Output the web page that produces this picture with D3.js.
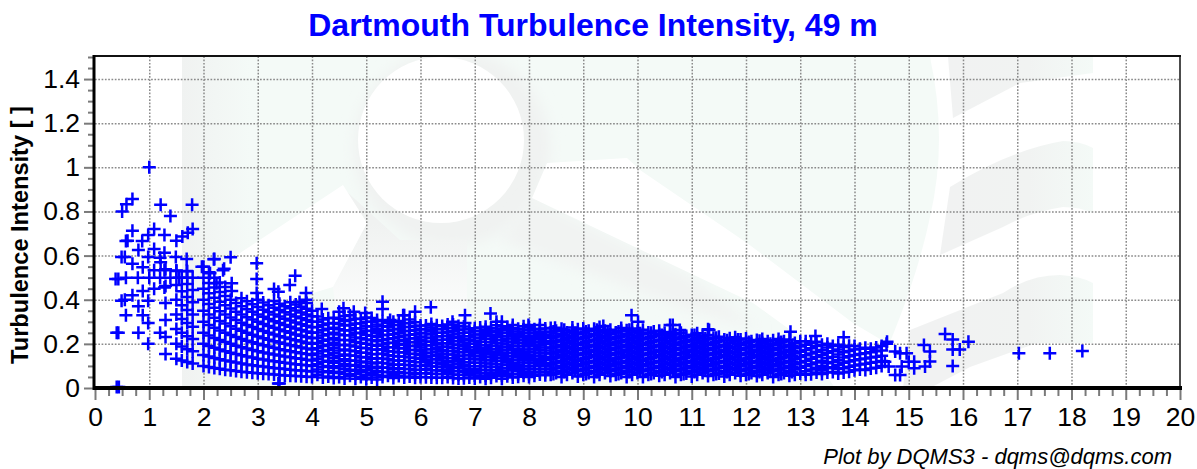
<!DOCTYPE html>
<html lang="en">
<head>
    <meta charset="UTF-8">
    <title>Dartmouth Turbulence Intensity, 49 m</title>
    <style>
        body { margin: 0; background: #fff; }
        svg { display: block; }
        text { font-family: "Liberation Sans", Arial, sans-serif; fill: #000; }
        .title { font-size: 32px; font-weight: bold; fill: #0000ff; text-anchor: middle; }
        .ylabel { font-size: 23.6px; font-weight: bold; text-anchor: middle; }
        .credit { font-size: 22px; font-style: italic; text-anchor: end; }
        .axis text { font-size: 26.5px; font-family: "Liberation Sans", Arial, sans-serif; fill: #000; }
        .axis path { display: none; }
        .axis line { stroke: #7a7a7a; stroke-width: 2; }
        .grid line { stroke: #8a8a8a; stroke-width: 1.5; stroke-dasharray: 1.7 1.6; }
        .grid path { display: none; }
        .mark { fill: none; stroke: #0000ff; stroke-width: 2.5; }
    </style>
</head>
<body>

<svg width="1197" height="469"></svg>

<script src="https://d3js.org/d3.v7.min.js"></script>

<script>

// single points around the edge of the cloud
const edgeWs = [1, .69, .58, .5, 1.21, 1.39, 1.79, .69, .57, .6, 1.09, 1.28, .98, .87, 1.5, 1.61, 1.71, 1.8,
    1.09, .8, 1.28, .49, .55, .69, .98, 1.2, 1.21, 1.49, 1.69, 2.2, .88, 1.09, 1.28, 1.5, 1.69, 2.36, 1.97, 2.12,
    .38, .43, .57, .79, 1, 1.2, 1.39, 1.55, 1.7, .88, .69, 1.09, 1.28, .49, .55, .98, .8, .88, .57, .98,
    .4, .43, .8, .98, 1.2, .4, .44,
    2.19, 2.5, 2.98, 2.38, 2.24, 2.52, 2.52, 2.98, 3.69, 3.59, 2.98, 3.3, 3.38, 3.89, 3.89, 3.77, 4.18, 4.58, 4.5,
    4.77, 5.3, 5.3, 4.98, 5.1, 5.68, 5.44, 6.19, 5.9, 5.7, 6.82, 7.29, 6.59, 6.82, 7.4, 7.5, 7.7, 7.99, 8.2,
    8.48, 9.37, 9.89, 10.01, 10.6, 10.78, 11.32, 12.82, 10.65, 11.3, 13.28, 13.8, 3.38, 3.4,
    14.6, 14.59, 14.75, 14.84, 14.96, 15, 15.1, 15.1, 14.87, 14.63, 14.75, 14.84, 14.56, 15.28, 15.39, 15.39, 15.3,
    15.67, 15.81, 15.81, 15.94, 16.1, 15.81, 17.03, 17.6, 18.2];
const edgeTi = [1, .856, .833, .8, .83, .78, .83, .713, .666, .667, .72, .693, .693, .666, .667, .686, .704, .72,
    .63, .625, .613, .594, .594, .563, .594, .59, .57, .594, .585, .585, .547, .534, .534, .53, .53, .534, .55, .52,
    .494, .494, .5, .5, .5, .5, .5, .5, .5, .44, .42, .45, .455, .395, .4, .395, .37, .33, .33, .295,
    .25, .25, .25, .2, .25, .005, .005,
    .583, .592, .565, .54, .475, .475, .44, .494, .509, .467, .43, .449, .436, .43, .4, .39, .358, .361, .346,
    .346, .391, .358, .34, .317, .33, .308, .366, .346, .33, .33, .338, .3, .294, .3, .3, .285, .285, .285,
    .273, .281, .33, .3, .285, .263, .263, .255, .285, .266, .236, .23, .02, .02,
    .21, .2, .165, .157, .157, .119, .119, .09, .097, .097, .059, .059, .119, .195, .165, .12, .097,
    .245, .22, .175, .175, .21, .1, .157, .157, .168];

// the dense part, one list of readings for each wind speed
const columnWs = [1.3, 1.5, 1.6, 1.7, 1.8, 2, 2.2, 2.3, 2.5, 2.6, 2.8, 2.9, 3.1, 3.2, 3.4, 3.5, 3.7, 3.8, 4,
    4.2, 4.4, 4.6, 4.8, 5, 5.2, 5.4, 5.6, 5.8, 6, 6.2, 6.4, 6.6, 6.8, 7, 7.2, 7.4, 7.6, 7.8, 8, 8.2,
    8.4, 8.5, 8.6, 8.7, 8.8, 8.9, 9, 9.1, 9.2, 9.3, 9.4, 9.5, 9.6, 9.7, 9.8, 9.9, 10, 10.1, 10.2, 10.3,
    10.4, 10.5, 10.6, 10.7, 10.8, 10.9, 11, 11.1, 11.2, 11.3, 11.4, 11.5, 11.6, 11.7, 11.8, 11.9, 12,
    12.1, 12.2, 12.3, 12.4, 12.5, 12.6, 12.7, 12.8, 12.9, 13,
    13.1, 13.2, 13.3, 13.4, 13.5, 13.6, 13.7, 13.8, 13.9, 14, 14.1, 14.2, 14.3, 14.4, 14.5];
const columnTi = [
    [.154, .231, .308, .385, .462, .538],
    [.133, .2, .267, .333, .4, .467, .533],
    [.125, .188, .25, .313, .375, .438, .5],
    [.118, .176, .235, .294, .353, .412, .471, .529],
    [.111, .167, .222, .278, .333, .389, .444, .5],
    [.1, .15, .2, .25, .3, .35, .4, .45, .5, .55],
    [.091, .136, .182, .227, .273, .318, .364, .409, .455, .5],
    [.087, .13, .174, .217, .261, .304, .348, .391, .435, .478],
    [.08, .12, .16, .2, .24, .28, .32, .36, .4],
    [.077, .115, .154, .192, .231, .269, .308, .346, .385],
    [.071, .107, .143, .179, .214, .25, .286, .321, .357, .393],
    [.069, .103, .138, .172, .207, .241, .276, .31, .345, .379],
    [.065, .097, .129, .161, .194, .226, .258, .29, .323, .355, .387],
    [.063, .094, .125, .156, .188, .219, .25, .281, .313, .344, .375],
    [.059, .088, .118, .147, .176, .206, .235, .265, .294, .324, .353, .382],
    [.057, .086, .114, .143, .171, .2, .229, .257, .286, .314, .343, .371],
    [.054, .081, .108, .135, .162, .189, .216, .243, .27, .297, .324, .351, .378],
    [.053, .079, .105, .132, .158, .184, .211, .237, .263, .289, .316, .342, .368],
    [.05, .075, .1, .125, .15, .175, .2, .225, .25, .275, .3, .325, .35],
    [.048, .071, .095, .119, .143, .167, .19, .214, .238, .262, .286, .31],
    [.045, .068, .091, .114, .136, .159, .182, .205, .227, .25, .273, .295, .318],
    [.043, .065, .087, .109, .13, .152, .174, .196, .217, .239, .261, .283, .304, .326],
    [.042, .063, .083, .104, .125, .146, .167, .188, .208, .229, .25, .271, .292, .313],
    [.04, .06, .08, .1, .12, .14, .16, .18, .2, .22, .24, .26, .28, .3, .32],
    [.038, .058, .077, .096, .115, .135, .154, .173, .192, .212, .231, .25, .269, .288, .308],
    [.056, .074, .093, .111, .13, .148, .167, .185, .204, .222, .241, .259, .278, .296],
    [.054, .071, .089, .107, .125, .143, .161, .179, .196, .214, .232, .25, .268, .286, .304],
    [.052, .069, .086, .103, .121, .138, .155, .172, .19, .207, .224, .241, .259, .276, .293, .31],
    [.05, .067, .083, .1, .117, .133, .15, .167, .183, .2, .217, .233, .25, .267, .283],
    [.048, .065, .081, .097, .113, .129, .145, .161, .177, .194, .21, .226, .242, .258, .274, .29],
    [.047, .063, .078, .094, .109, .125, .141, .156, .172, .188, .203, .219, .234, .25, .266, .281],
    [.045, .061, .076, .091, .106, .121, .136, .152, .167, .182, .197, .212, .227, .242, .258, .273, .288],
    [.044, .059, .074, .088, .103, .118, .132, .147, .162, .176, .191, .206, .221, .235, .25, .265, .279],
    [.043, .057, .071, .086, .1, .114, .129, .143, .157, .171, .186, .2, .214, .229, .243, .257, .271],
    [.042, .056, .069, .083, .097, .111, .125, .139, .153, .167, .181, .194, .208, .222, .236, .25, .264, .278],
    [.054, .068, .081, .095, .108, .122, .135, .149, .162, .176, .189, .203, .216, .23, .243, .257, .27, .284],
    [.053, .066, .079, .092, .105, .118, .132, .145, .158, .171, .184, .197, .211, .224, .237, .25, .263, .276],
    [.051, .064, .077, .09, .103, .115, .128, .141, .154, .167, .179, .192, .205, .218, .231, .244, .256, .269],
    [.05, .063, .075, .088, .1, .113, .125, .138, .15, .163, .175, .188, .2, .213, .225, .238, .25, .263, .275],
    [.061, .073, .085, .098, .11, .122, .134, .146, .159, .171, .183, .195, .207, .22, .232, .244, .256, .268],
    [.06, .084, .108, .132, .156, .18, .204, .228, .252, .272],
    [.068, .092, .116, .14, .164, .188, .212, .236, .26],
    [.05, .076, .1, .124, .148, .172, .196, .22, .244, .268],
    [.06, .084, .108, .132, .156, .18, .204, .228, .252],
    [.068, .092, .116, .14, .164, .188, .212, .236, .26, .274],
    [.052, .076, .1, .124, .148, .172, .196, .22, .244, .266],
    [.06, .084, .108, .132, .156, .18, .204, .228, .252, .27],
    [.068, .092, .116, .14, .164, .188, .212, .236, .26],
    [.05, .076, .1, .124, .148, .172, .196, .22, .244, .268],
    [.06, .084, .108, .132, .156, .18, .204, .228, .252, .276],
    [.068, .092, .116, .14, .164, .188, .212, .236, .26],
    [.054, .076, .1, .124, .148, .172, .196, .22, .244, .264],
    [.06, .084, .108, .132, .156, .18, .204, .228, .252],
    [.068, .092, .116, .14, .164, .188, .212, .236, .26, .272],
    [.05, .076, .1, .124, .148, .172, .196, .22, .244, .262],
    [.06, .084, .108, .132, .156, .18, .204, .228, .252, .27],
    [.068, .092, .116, .14, .164, .188, .212, .236, .258],
    [.05, .076, .1, .124, .148, .172, .196, .22, .244, .264],
    [.06, .084, .108, .132, .156, .18, .204, .228, .252],
    [.068, .092, .116, .14, .164, .188, .212, .236, .256],
    [.056, .076, .1, .124, .148, .172, .196, .22, .244, .26],
    [.06, .084, .108, .132, .156, .18, .204, .228, .25],
    [.068, .092, .116, .14, .164, .188, .212, .236, .254],
    [.05, .076, .1, .124, .148, .172, .196, .22, .244],
    [.06, .084, .108, .132, .156, .18, .204, .228, .25],
    [.066, .092, .116, .14, .164, .188, .212, .236],
    [.052, .076, .1, .124, .148, .172, .196, .22, .24],
    [.06, .084, .108, .132, .156, .18, .204, .228, .248],
    [.068, .092, .116, .14, .164, .188, .212, .236],
    [.054, .076, .1, .124, .148, .172, .196, .22, .24],
    [.06, .084, .108, .132, .156, .18, .204, .228],
    [.066, .092, .116, .14, .164, .188, .212, .232],
    [.052, .076, .1, .124, .148, .172, .196, .22],
    [.06, .084, .108, .132, .156, .18, .204, .226],
    [.068, .092, .116, .14, .164, .188, .212, .23],
    [.056, .076, .1, .124, .148, .172, .196, .22],
    [.06, .084, .108, .132, .156, .18, .204, .224],
    [.068, .092, .116, .14, .164, .188, .212],
    [.054, .076, .1, .124, .148, .172, .196, .218],
    [.06, .084, .108, .132, .156, .18, .204, .222],
    [.068, .092, .116, .14, .164, .188, .212],
    [.05, .076, .1, .124, .148, .172, .196, .216],
    [.06, .084, .108, .132, .156, .18, .204, .222],
    [.068, .092, .116, .14, .164, .188, .212],
    [.056, .076, .1, .124, .148, .172, .196, .22],
    [.06, .084, .108, .132, .156, .18, .204],
    [.066, .092, .116, .14, .164, .188, .212],
    [.06, .076, .1, .122, .148, .172, .196, .212],
    [.062, .084, .108, .132, .156, .18, .204],
    [.07, .092, .116, .14, .164, .19, .21],
    [.064, .082, .1, .124, .15, .172, .196],
    [.07, .09, .112, .136, .16, .184, .2],
    [.072, .094, .118, .14, .166, .19],
    [.066, .086, .104, .126, .152, .174, .196],
    [.07, .09, .114, .138, .162, .186],
    [.074, .096, .12, .144, .168, .192],
    [.08, .102, .126, .15, .174, .19],
    [.084, .106, .13, .154, .178],
    [.082, .11, .134, .158, .182],
    [.088, .114, .138, .162, .178],
    [.092, .118, .142, .166, .184],
    [.1, .122, .146, .17, .19]
];

// more readings that sit between the columns above
const infillWs = [2.1, 2.4, 2.7, 3, 3.3, 3.6, 3.9,
    4.1, 4.3, 4.5, 4.7, 4.9, 5.1, 5.3, 5.5, 5.7, 5.9, 6.1, 6.3, 6.5, 6.7, 6.9, 7.1, 7.3, 7.5, 7.7, 7.9, 8.1, 8.3,
    8.45, 8.65, 8.85, 9.05, 9.25, 9.45, 9.65, 9.85, 10.05, 10.25, 10.45, 10.65, 10.85, 11.05, 11.25, 11.45, 11.65,
    11.85, 12.05, 12.25, 12.45, 12.65, 12.85];
const infillTi = [
    [.095, .143, .19, .238, .286, .333, .381, .429, .476, .524],
    [.083, .125, .167, .208, .25, .292, .333, .375, .417, .458],
    [.074, .111, .148, .185, .222, .259, .296, .333, .37, .407],
    [.067, .1, .133, .167, .2, .233, .267, .3, .333, .367, .4],
    [.061, .091, .121, .152, .182, .212, .242, .273, .303, .333, .364, .394],
    [.056, .083, .111, .139, .167, .194, .222, .25, .278, .306, .333, .361, .389],
    [.051, .077, .103, .128, .154, .179, .205, .231, .256, .282, .308, .333, .359, .385],
    [.06, .084, .108, .132, .156, .18, .204, .228, .252, .276, .3, .324],
    [.052, .076, .1, .124, .148, .172, .196, .22, .244, .268, .292, .316],
    [.05, .074, .098, .122, .146, .17, .194, .218, .242, .266, .29, .314],
    [.055, .078, .101, .124, .147, .17, .193, .216, .239, .262, .285, .308, .33],
    [.05, .072, .094, .116, .138, .16, .182, .204, .226, .248, .27, .292, .314],
    [.048, .069, .09, .111, .132, .153, .174, .195, .216, .237, .258, .279, .3],
    [.05, .071, .092, .113, .134, .155, .176, .197, .218, .239, .26, .281, .302],
    [.045, .065, .085, .105, .125, .145, .165, .185, .205, .225, .245, .265, .285, .3],
    [.048, .067, .086, .105, .124, .143, .162, .181, .2, .219, .238, .257, .276, .295],
    [.046, .064, .082, .1, .118, .136, .154, .172, .19, .208, .226, .244, .262, .28, .298],
    [.049, .067, .085, .103, .121, .139, .157, .175, .193, .211, .229, .247, .265, .283],
    [.046, .063, .08, .097, .114, .131, .148, .165, .182, .199, .216, .233, .25, .267, .284],
    [.05, .067, .084, .101, .118, .135, .152, .169, .186, .203, .22, .237, .254, .271, .288],
    [.043, .06, .077, .094, .111, .128, .145, .162, .179, .196, .213, .23, .247, .264, .281],
    [.048, .065, .082, .099, .116, .133, .15, .167, .184, .201, .218, .235, .252, .269],
    [.05, .066, .082, .098, .114, .13, .146, .162, .178, .194, .21, .226, .242, .258, .274],
    [.047, .063, .079, .095, .111, .127, .143, .159, .175, .191, .207, .223, .239, .255, .271],
    [.042, .058, .074, .09, .106, .122, .138, .154, .17, .186, .202, .218, .234, .25, .266, .28],
    [.048, .064, .08, .096, .112, .128, .144, .16, .176, .192, .208, .224, .24, .256, .272],
    [.055, .07, .085, .1, .115, .13, .145, .16, .175, .19, .205, .22, .235, .25, .265, .28],
    [.056, .071, .086, .101, .116, .131, .146, .161, .176, .191, .206, .221, .236, .251, .266],
    [.058, .072, .086, .1, .114, .128, .142, .156, .17, .184, .198, .212, .226, .24, .254, .27],
    [.064, .088, .112, .136, .16, .184, .208, .232, .256],
    [.072, .096, .12, .144, .168, .192, .216, .24, .264],
    [.08, .104, .128, .152, .176, .2, .224, .248],
    [.064, .088, .112, .136, .16, .184, .208, .232, .256],
    [.072, .096, .12, .144, .168, .192, .216, .24, .264],
    [.08, .104, .128, .152, .176, .2, .224, .248],
    [.064, .088, .112, .136, .16, .184, .208, .232, .256],
    [.072, .096, .12, .144, .168, .192, .216, .24, .264],
    [.08, .104, .128, .152, .176, .2, .224, .248],
    [.064, .088, .112, .136, .16, .184, .208, .232, .25],
    [.072, .096, .12, .144, .168, .192, .216, .24],
    [.08, .104, .128, .152, .176, .2, .224, .244],
    [.064, .088, .112, .136, .16, .184, .208, .232],
    [.072, .096, .12, .144, .168, .192, .216, .24],
    [.08, .104, .128, .152, .176, .2, .224],
    [.064, .088, .112, .136, .16, .184, .208, .228],
    [.072, .096, .12, .144, .168, .192, .216],
    [.08, .104, .128, .152, .176, .2, .22],
    [.064, .088, .112, .136, .16, .184, .208],
    [.072, .096, .12, .144, .168, .192, .214],
    [.08, .104, .128, .152, .176, .2],
    [.064, .088, .112, .136, .16, .184, .208],
    [.072, .096, .12, .144, .168, .192]
];

const xTicks = d3.range(0, 21);
const yTicks = [0, 0.2, 0.4, 0.6, 0.8, 1, 1.2, 1.4];

const svg = d3.select('svg');

const x = d3.scaleLinear().domain([0, 20]).range([95, 1180]);
const y = d3.scaleLinear().domain([0, 1.5]).range([388, 57]);

// faded logo behind the plot
const defs = svg.append('defs');
defs.append('clipPath').attr('id', 'logoClip')
    .append('rect').attr('x', 182).attr('y', 57).attr('width', 911).attr('height', 331);
defs.append('filter').attr('id', 'soft').attr('x', '-20%').attr('y', '-20%').attr('width', '140%').attr('height', '140%')
    .append('feGaussianBlur').attr('stdDeviation', 7);

function gradient(id, x1, y1, x2, y2, stops) {
    const g = defs.append('linearGradient').attr('id', id)
        .attr('gradientUnits', 'userSpaceOnUse')
        .attr('x1', x1).attr('y1', y1).attr('x2', x2).attr('y2', y2);
    stops.forEach(s => g.append('stop').attr('offset', s[0]).attr('stop-color', s[1]));
}
gradient('baseFill', 182, 0, 250, 0, [[0, '#f0f2f1'], [1, '#f4faf7']]);
gradient('underFill', 0, 223, 0, 320, [[0, '#f0f2f1'], [1, '#fcfdfd']]);
gradient('shardFill', 950, 0, 1093, 0, [[0, '#f1f2f2'], [0.55, '#f1f3f2'], [1, '#f4faf7']]);

const logo = svg.append('g').attr('clip-path', 'url(#logoClip)');
logo.append('path').attr('fill', 'url(#baseFill)')
    .attr('d', 'M182,57L930,57Q948,140 930,217Q915,290 870,388L182,388Z');
logo.append('circle').attr('cx', 452).attr('cy', 148).attr('r', 98)
    .attr('fill', '#f0f2f1').attr('filter', 'url(#soft)');
logo.append('path').attr('fill', '#f1f3f2').attr('filter', 'url(#soft)')
    .attr('d', 'M532,198L690,277L760,330L690,310L500,240Z');
logo.append('path').attr('fill', 'url(#underFill)')
    .attr('d', 'M345,190L367,223L333,287L345,388L467,388L467,240L400,240Z');
logo.append('path').attr('fill', '#ffffff')
    .attr('d', 'M343,185L240,253L205,278L215,340L313,293L333,287L367,223Z');
logo.append('circle').attr('cx', 441).attr('cy', 140).attr('r', 83).attr('fill', '#ffffff');
logo.append('path').attr('fill', '#ffffff')
    .attr('d', 'M547,163L627,158L640,170L747,243L853,323L890,345L870,388L835,388L800,337L753,303L637,248L532,198Z');
logo.append('path').attr('fill', 'url(#shardFill)')
    .attr('d', 'M948,57L1093,57L1093,73L1020,83L953,118Z');
logo.append('path').attr('fill', 'url(#shardFill)')
    .attr('d', 'M950,187Q1010,150 1063,141Q1080,141 1093,148L1093,213Q1080,207 1063,207Q1030,212 1003,227L940,255Z');
logo.append('path').attr('fill', 'url(#shardFill)')
    .attr('d', 'M910,330L1003,293Q1030,275 1060,275Q1080,276 1093,283L1093,343L1037,343L970,367L930,388L903,388Z');

// dotted grid
svg.append('g').attr('class', 'grid')
    .attr('transform', 'translate(0,388)')
    .call(d3.axisBottom(x).tickValues(xTicks.slice(1, 20)).tickSize(-331).tickFormat(''));
svg.append('g').attr('class', 'grid')
    .attr('transform', 'translate(95,0)')
    .call(d3.axisLeft(y).tickValues(yTicks.slice(1)).tickSize(-1085).tickFormat(''));

// flatten columns and edge points
const points = [];
columnWs.forEach((ws, i) => columnTi[i].forEach(ti => points.push([ws, ti])));
infillWs.forEach((ws, i) => infillTi[i].forEach(ti => points.push([ws, ti])));
edgeWs.forEach((ws, i) => points.push([ws, edgeTi[i]]));

svg.append('g').selectAll('path')
    .data(points)
    .join('path')
    .attr('class', 'mark')
    .attr('d', 'M-6.5,0H6.5M0,-6.5V6.5')
    .attr('transform', d => `translate(${x(d[0])},${y(d[1])})`);

// axes
const xMinor = d3.range(0, 20.01, 0.25).filter(v => v % 1 !== 0);
const yMinor = d3.range(0, 1.501, 0.05).filter(v => Math.abs(v * 5 - Math.round(v * 5)) > 1e-6);

svg.append('g').attr('class', 'axis')
    .attr('transform', 'translate(0,388)')
    .call(d3.axisBottom(x).tickValues(xMinor).tickSize(8).tickFormat(''));
svg.append('g').attr('class', 'axis')
    .attr('transform', 'translate(0,388)')
    .call(d3.axisBottom(x).tickValues(xTicks).tickSize(12).tickPadding(7).tickFormat(d3.format('d')));
svg.append('g').attr('class', 'axis')
    .attr('transform', 'translate(95,0)')
    .call(d3.axisLeft(y).tickValues(yMinor).tickSize(7).tickFormat(''));
svg.append('g').attr('class', 'axis')
    .attr('transform', 'translate(95,0)')
    .call(d3.axisLeft(y).tickValues(yTicks).tickSize(11).tickPadding(4).tickFormat(d => d));

// frame
svg.append('line').attr('x1', 94).attr('x2', 1181).attr('y1', 56).attr('y2', 56).attr('stroke', '#111').attr('stroke-width', 2);
svg.append('line').attr('x1', 1180).attr('x2', 1180).attr('y1', 56).attr('y2', 388).attr('stroke', '#111').attr('stroke-width', 1.5);
svg.append('line').attr('x1', 94).attr('x2', 94).attr('y1', 55).attr('y2', 390).attr('stroke', '#000').attr('stroke-width', 3);
svg.append('line').attr('x1', 93).attr('x2', 1182).attr('y1', 388).attr('y2', 388).attr('stroke', '#000').attr('stroke-width', 4);

// texts
svg.append('text').attr('class', 'title').attr('x', 593).attr('y', 36)
    .text('Dartmouth Turbulence Intensity, 49 m');
svg.append('text').attr('class', 'ylabel')
    .attr('transform', 'translate(28,235) rotate(-90)')
    .text('Turbulence Intensity [ ]');
svg.append('text').attr('class', 'credit').attr('x', 1172).attr('y', 464)
    .text('Plot by DQMS3 - dqms@dqms.com');

</script>

</body>
</html>
